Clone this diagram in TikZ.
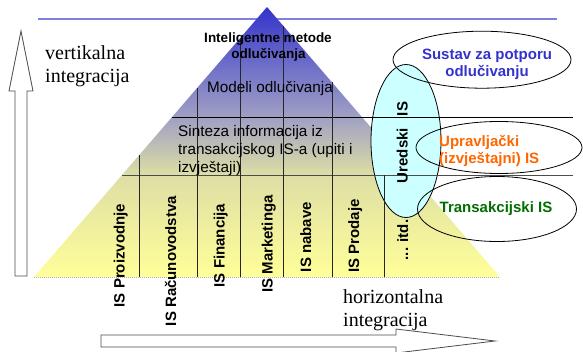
\documentclass[tikz,border=0pt]{standalone}
\usepackage{fontspec}
\setmainfont{Liberation Serif}
\newfontfamily\arialf{Liberation Sans}
\usetikzlibrary{shapes.geometric}
\definecolor{pyY}{RGB}{255,255,153}
\definecolor{pyA}{RGB}{222,222,165}
\definecolor{pyM}{RGB}{160,160,196}
\definecolor{pyC}{RGB}{105,105,202}
\definecolor{pyB}{RGB}{51,51,204}
\definecolor{topline}{RGB}{128,128,226}
\definecolor{dssblue}{RGB}{51,51,204}
\definecolor{misorange}{RGB}{255,102,0}
\definecolor{tpsgreen}{RGB}{0,110,0}
\definecolor{oacyan}{RGB}{204,255,255}
\pgfdeclareverticalshading{pyrshade}{100bp}{color(0bp)=(pyY); color(25bp)=(pyY); color(43.9bp)=(pyA); color(54.6bp)=(pyM); color(65.2bp)=(pyC); color(75bp)=(pyB); color(100bp)=(pyB)}
\begin{document}
\begin{tikzpicture}[x=1pt,y=-1pt,
  gridline/.style={draw=black!85,line width=0.8pt},
  oval/.style={ellipse,draw=black,line width=0.8pt,inner sep=0pt},
  blockarrow/.style={draw=black!70,fill=white,line width=0.8pt,line join=miter},
  serifbig/.style={font=\fontsize{20}{24}\selectfont,inner sep=0pt},
  plain/.style={font=\arialf\fontsize{15.3}{18}\selectfont,inner sep=0pt},
  boldlab/.style={font=\arialf\bfseries\fontsize{15}{18}\selectfont,inner sep=0pt},
  smallbold/.style={font=\arialf\bfseries\fontsize{13.5}{16}\selectfont,inner sep=0pt},
  collabel/.style={boldlab,rotate=90,anchor=base}
]
\useasboundingbox (0,0) rectangle (583,351);

% top blue line
\coordinate (tl1) at (38,19);
\coordinate (tl2) at (557,19);
\draw[topline,line width=1.2pt] (tl1) -- (tl2);

% pyramid
\coordinate (L) at (34,277);
\coordinate (A) at (267,7);
\coordinate (R) at (500,277);
\shade[shading=pyrshade] (L) -- (A) -- (R) -- cycle;
\draw[gray!60,line width=0.6pt,dash pattern=on 1pt off 1pt] (L) -- (R);

% office IS ellipse (filled)
\node[oval,fill=oacyan,minimum width=70pt,minimum height=153pt] (ured) at (406,141) {};

% horizontal lines
\coordinate (h1a) at (172.1,117);
\coordinate (h1b) at (573,117);
\coordinate (h2a) at (122,175);
\coordinate (h2b) at (573,175);
\draw[gridline,draw=black] (h1a) -- (h1b);
\draw[gridline,draw=black!70] (h2a) -- (h2b);

% vertical lines
\coordinate (v1a) at (139,155.3);  \coordinate (v1b) at (139,277);
\coordinate (v2a) at (197,88.1);   \coordinate (v2b) at (197,277);
\coordinate (v3a) at (240,38.3);   \coordinate (v3b) at (240,277);
\coordinate (v4a) at (283,25.6);   \coordinate (v4b) at (283,277);
\coordinate (v5a) at (332,82.3);   \coordinate (v5b) at (332,277);
\coordinate (v6a) at (384,175);    \coordinate (v6b) at (384,277);
\foreach \i in {1,...,6} \draw[gridline] (v\i a) -- (v\i b);

% other ellipses
\node[oval,minimum width=178pt,minimum height=57pt] (dss) at (482,59.7) {};
\node[oval,minimum width=166pt,minimum height=52pt] (mis) at (499,147.5) {};
\node[oval,minimum width=159pt,minimum height=65pt] (tps) at (497,209) {};

% block arrows
\draw[blockarrow] (15,276) -- (15,91) -- (9,91) -- (21,31) -- (33,91) -- (27,91) -- (27,276) -- cycle;
\draw[blockarrow] (101,335) -- (396,335) -- (396,329) -- (495,341) -- (396,353) -- (396,347) -- (101,347) -- cycle;

% side texts
\node[serifbig,anchor=base west] (vert1) at (45,59) {vertikalna};
\node[serifbig,anchor=base west] (vert2) at (45,82.5) {integracija};
\node[serifbig,anchor=base west] (hor1) at (343,303.3) {horizontalna};
\node[serifbig,anchor=base west] (hor2) at (343,326.7) {integracija};

% pyramid texts
\node[smallbold,anchor=base] (int1) at (268,42) {Inteligentne metode};
\node[smallbold,anchor=base] (int2) at (268.5,58.3) {odlučivanja};
\node[plain,anchor=base] (model) at (270,92) {Modeli odlučivanja};
\node[plain,anchor=base west] (sin1) at (178,136) {Sinteza informacija iz};
\node[plain,anchor=base west] (sin2) at (178,154.3) {transakcijskog IS-a (upiti i};
\node[plain,anchor=base west] (sin3) at (178,172.7) {izvještaji)};

% column labels
\node[collabel] (c1) at (124.5,255.5) {IS Proizvodnje};
\node[collabel] (c2) at (176,261) {IS Računovodstva};
\node[collabel] (c3) at (224.5,245.5) {IS Financija};
\node[collabel] (c4) at (272.5,244) {IS Marketinga};
\node[collabel] (c5) at (311,237) {IS nabave};
\node[collabel] (c6) at (359,236) {IS Prodaje};
\node[collabel] (c7) at (408,240) {... itd.};
\node[collabel] (uredlab) at (407.5,142.5) {Uredski\hspace{12pt}IS};

% ellipse texts
\node[boldlab,text=dssblue,anchor=base] (dss1) at (487,59) {Sustav za potporu};
\node[boldlab,text=dssblue,anchor=base] (dss2) at (487,76) {odlučivanju};
\node[boldlab,text=misorange,anchor=base west] (mis1) at (439,146) {Upravljački};
\node[boldlab,text=misorange,anchor=base west] (mis2) at (439,163) {(izvještajni) IS};
\node[boldlab,text=tpsgreen,anchor=base] (tpslab) at (496,212) {Transakcijski IS};
\end{tikzpicture}
\end{document}
